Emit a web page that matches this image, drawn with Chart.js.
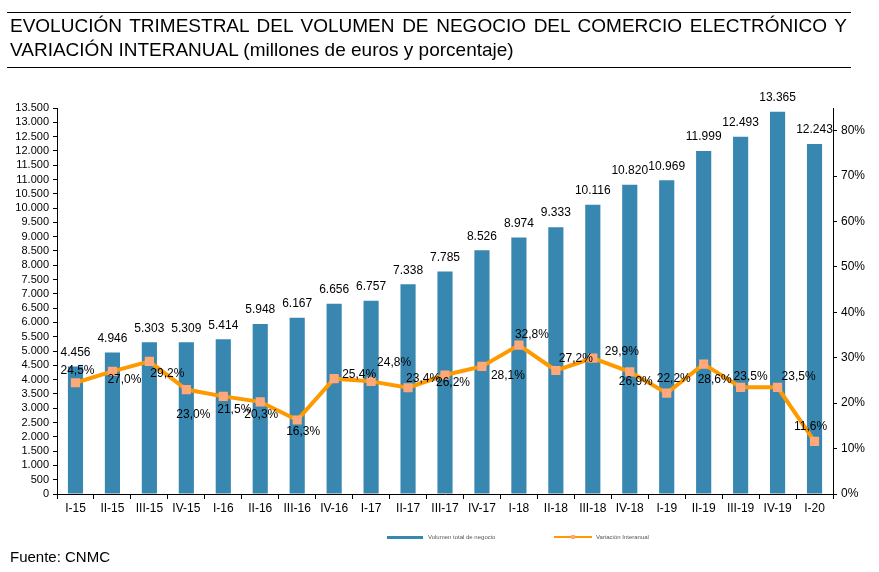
<!DOCTYPE html>
<html>
<head>
<meta charset="utf-8">
<script src="https://cdn.jsdelivr.net/npm/chart.js@4"></script>
<style>
  body { margin: 0; background: #fff; font-family: "Liberation Sans", Arial, sans-serif; }
  #wrap { position: relative; width: 879px; height: 572px; overflow: hidden; }
  #myChart { position: absolute; left: 0; top: 0; }
  .title { position: absolute; left: 7px; top: 12px; width: 844px; border-top: 1px solid #000; border-bottom: 1px solid #000;
           padding: 1px 0 5px 0; font-size: 19px; line-height: 24px; color: #000; }
  .title div { padding: 0 4px 0 3px; }
  .l1 { text-align: justify; text-align-last: justify; }
  .leg { position: absolute; font-size: 6px; color: #555; white-space: nowrap; }
  .sw { position: absolute; height: 3px; }
  .src { position: absolute; left: 10px; top: 548px; font-size: 15px; }
</style>
</head>
<body>
<div id="wrap">
  <canvas id="myChart" width="879" height="572"></canvas>
  <div class="title">
    <div class="l1">EVOLUCIÓN TRIMESTRAL DEL VOLUMEN DE NEGOCIO DEL COMERCIO ELECTRÓNICO Y</div>
    <div>VARIACIÓN INTERANUAL (millones de euros y porcentaje)</div>
  </div>
  <div class="sw" style="left:387px;top:536px;width:36px;background:#3787b1"></div>
  <div class="leg" style="left:428px;top:534px">Volumen total de negocio</div>
  <div class="sw" style="left:554px;top:536px;width:38px;height:2px;background:#ff9900"></div>
  <div class="sw" style="left:571px;top:535px;width:4px;height:4px;background:#ffa97a"></div>
  <div class="leg" style="left:596px;top:534px">Variación Interanual</div>
  <div class="src">Fuente: CNMC</div>
</div>
<script>
// trimestres
const trimestres = ['I-15', 'II-15', 'III-15', 'IV-15', 'I-16', 'II-16', 'III-16', 'IV-16', 'I-17', 'II-17', 'III-17',
  'IV-17', 'I-18', 'II-18', 'III-18', 'IV-18', 'I-19', 'II-19', 'III-19', 'IV-19', 'I-20'];
// volumen de negocio (millones de euros)
const volumen = [4456, 4946, 5303, 5309, 5414, 5948, 6167, 6656, 6757, 7338, 7785,
  8526, 8974, 9333, 10116, 10820, 10969, 11999, 12493, 13365, 12243];
// variacion interanual (%)
const variacion = [24.5, 27.0, 29.2, 23.0, 21.5, 20.3, 16.3, 25.4, 24.8, 23.4, 26.2,
  28.1, 32.8, 27.2, 29.9, 26.9, 22.2, 28.6, 23.5, 23.5, 11.6];

// desplazamiento de las etiquetas de % (como en el Excel original)
const pctLabelOffset = [[2, -12], [12, 8], [18, 12], [7, 25], [11, 13], [1, 13], [6, 12], [25, -4], [23, -19], [15, -9], [8, 8],
  [26, 9], [13, -10], [20, -12], [29, -7], [6, 10], [7, -14], [11, 16], [10, -11], [21, -11], [-4, -15]];

const fmtMiles = (v) => String(Math.round(v)).replace(/\B(?=(\d{3})+(?!\d))/g, '.');
const fmtPct = (v) => v.toFixed(1).replace('.', ',') + '%';

const etiquetas = {
  id: 'etiquetas',
  afterDatasetsDraw(chart) {
    const ctx = chart.ctx;
    ctx.save();
    ctx.font = '12px "Liberation Sans", Arial, sans-serif';
    ctx.fillStyle = '#000';
    ctx.textAlign = 'center';
    ctx.textBaseline = 'middle';
    chart.getDatasetMeta(0).data.forEach((bar, i) => {
      ctx.fillText(fmtMiles(volumen[i]), bar.x, bar.y - 14);
    });
    chart.getDatasetMeta(1).data.forEach((pt, i) => {
      const o = pctLabelOffset[i];
      ctx.fillText(fmtPct(variacion[i]), pt.x + o[0], pt.y + o[1]);
    });
    ctx.restore();
  }
};

Chart.defaults.font.family = '"Liberation Sans", Arial, sans-serif';
Chart.defaults.color = '#000';

const ctx = document.getElementById('myChart');

new Chart(ctx, {
  type: 'bar',
  data: {
    labels: trimestres,
    datasets: [{
      type: 'bar',
      label: 'Volumen total de negocio',
      data: volumen,
      backgroundColor: '#3787b1',
      barPercentage: 0.41,
      categoryPercentage: 1,
      yAxisID: 'y',
      order: 1
    }, {
      type: 'line',
      label: 'Variación Interanual',
      data: variacion,
      borderColor: '#ff9900',
      borderWidth: 4,
      backgroundColor: '#ffa97a',
      pointStyle: 'rect',
      pointRadius: 6.5,
      pointBorderWidth: 0,
      pointBackgroundColor: '#ffa97a',
      tension: 0,
      yAxisID: 'y1',
      order: 0
    }]
  },
  options: {
    responsive: false,
    animation: false,
    layout: { padding: { top: 108, left: 0, right: 0, bottom: 0 } },
    plugins: { legend: { display: false }, tooltip: { enabled: false } },
    scales: {
      x: {
        grid: { drawOnChartArea: false, tickLength: 5, color: '#000', offset: true },
        border: { color: '#000' },
        ticks: { font: { size: 12 }, padding: 2, maxRotation: 0, autoSkip: false },
        afterFit: (s) => { s.height = 78; }
      },
      y: {
        position: 'left',
        min: 0,
        max: 13500,
        grid: { drawOnChartArea: false, tickLength: 4, color: '#000' },
        border: { color: '#000' },
        ticks: { stepSize: 500, autoSkip: false, font: { size: 11 }, padding: 4, callback: (v) => fmtMiles(v) },
        afterFit: (s) => { s.width = 57; }
      },
      y1: {
        position: 'right',
        min: 0,
        max: 85,
        grid: { drawOnChartArea: false, tickLength: 4, color: '#000' },
        border: { color: '#000' },
        ticks: { stepSize: 10, font: { size: 12 }, padding: 4, callback: (v) => v + '%' },
        afterBuildTicks: (s) => { s.ticks = s.ticks.filter((t) => t.value % 10 === 0); },
        afterFit: (s) => { s.width = 46; }
      }
    }
  },
  plugins: [etiquetas]
});
</script>
</body>
</html>
